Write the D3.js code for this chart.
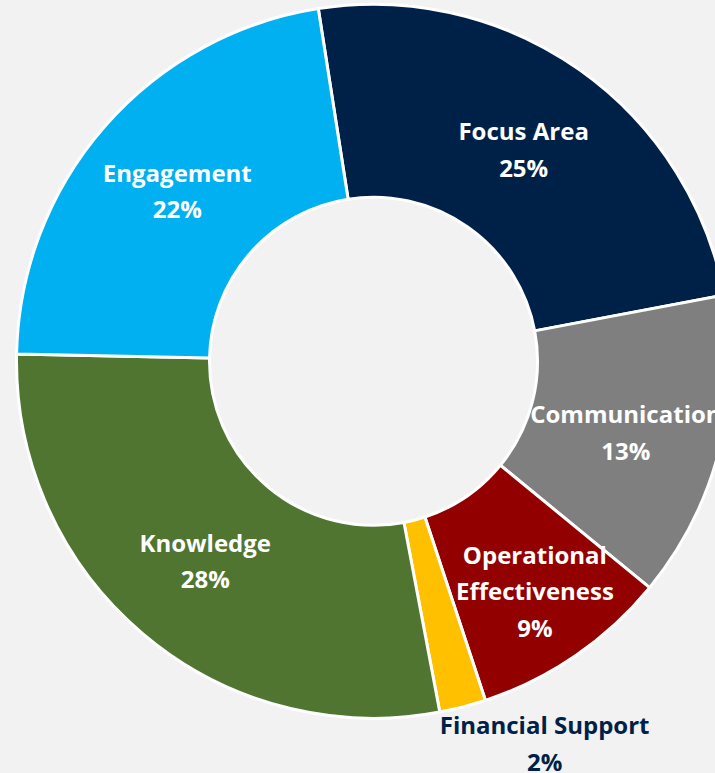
<!DOCTYPE html>
<html lang="en">
    <head>
        <meta charset="UTF-8">
        <title>Donut</title>
        <script src="https://cdn.jsdelivr.net/npm/d3@7"></script>
        <style type="text/css">
            body {margin: 0; background: #f2f2f2; overflow: hidden;}
            svg {display: block;}
            text {font-family: "Open Sans", "Liberation Sans", sans-serif; font-weight: bold; font-size: 24px;}
        </style>
    </head>
    <body>
        <svg id="chart" width="715" height="773"></svg>
        <script>
            // slices, clockwise from just left of 12 o'clock
            var categories = ['Focus Area', 'Communication', 'Operational Effectiveness', 'Financial Support', 'Knowledge', 'Engagement'];
            var values = [24.5, 13.9, 9.0, 2.1, 28.3, 22.2];
            var pctLabels = ['25%', '13%', '9%', '2%', '28%', '22%'];
            var colors = ['#002147', '#7f7f7f', '#930000', '#ffc000', '#4f7531', '#00b0f0'];

            var width = 715, height = 773;
            var cx = 373.5, cy = 361.3;
            var outer = 357, inner = 164;
            var start = -8.9 * Math.PI / 180;
            var lineGap = 36.5;

            // labels that were dragged away from the slice middle
            var nudge = {
                'Communication': [0, 6],
                'Operational Effectiveness': [14, 14],
                'Financial Support': [106, 129]
            };
            var lineBreaks = {'Operational Effectiveness': ['Operational', 'Effectiveness']};

            var svg = d3.select('#chart');
            var g = svg.append('g').attr('transform', 'translate(' + cx + ',' + cy + ')');

            var pie = d3.pie().sort(null).startAngle(start).endAngle(start + 2 * Math.PI);
            var arc = d3.arc().innerRadius(inner).outerRadius(outer);
            var arcs = pie(values);

            g.selectAll('path')
                .data(arcs)
                .enter()
                .append('path')
                .attr('d', arc)
                .attr('fill', function(d, i) { return colors[i]; })
                .attr('stroke', '#ffffff')
                .attr('stroke-width', 3)
                .attr('stroke-linejoin', 'round');

            var labels = g.selectAll('text')
                .data(arcs)
                .enter()
                .append('text')
                .attr('text-anchor', 'middle')
                .attr('fill', function(d, i) { return categories[i] === 'Financial Support' ? '#002147' : '#ffffff'; })
                .attr('transform', function(d, i) {
                    var c = arc.centroid(d);
                    var n = nudge[categories[i]] || [0, 0];
                    return 'translate(' + (c[0] + n[0]) + ',' + (c[1] + n[1]) + ')';
                });

            labels.each(function(d, i) {
                var lines = (lineBreaks[categories[i]] || [categories[i]]).concat([pctLabels[i]]);
                var t = d3.select(this);
                lines.forEach(function(s, k) {
                    t.append('tspan')
                        .attr('x', 0)
                        .attr('y', (k - (lines.length - 1) / 2) * lineGap + 10)
                        .text(s);
                });
            });
        </script>
    </body>
</html>
